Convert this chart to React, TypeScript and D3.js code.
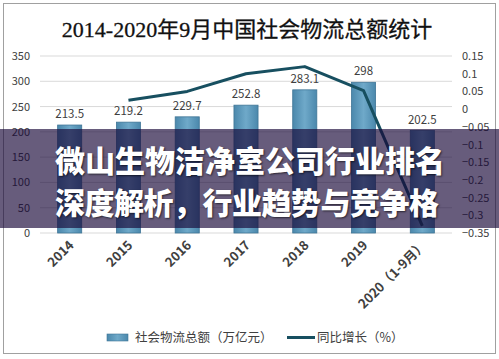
import * as d3 from "d3";

const years = ["2014", "2015", "2016", "2017", "2018", "2019", "2020（1-9月）"];
const totals = [213.5, 219.2, 229.7, 252.8, 283.1, 298, 202.5];
const growth: (number | null)[] = [null, 0.025, 0.05, 0.1, 0.12, 0.052, -0.33];
const leftTicks = [0, 50, 100, 150, 200, 250, 300, 350];
const rightTicks = [0.15, 0.1, 0.05, 0, -0.05, -0.1, -0.15, -0.2, -0.25, -0.3, -0.35];
const title = "2014-2020年9月中国社会物流总额统计";
const bannerLines = ["微山生物洁净室公司行业排名", "深度解析，行业趋势与竞争格"];
const legendBar = "社会物流总额（万亿元）";
const legendLine = "同比增长（%）";

export default function App() {
  const width = 499,
    height = 359,
    margin = { top: 56, right: 47, bottom: 126, left: 40 };

  const x = d3
    .scaleBand<string>()
    .domain(years)
    .range([margin.left, width - margin.right])
    .paddingInner(0.59)
    .paddingOuter(0.3);

  const y = d3
    .scaleLinear()
    .domain([0, 350])
    .range([height - margin.bottom, margin.top]);

  const y2 = d3
    .scaleLinear()
    .domain([-0.35, 0.15])
    .range([height - margin.bottom, margin.top]);

  const pts = years
    .map((yr, i) => ({ yr, g: growth[i] }))
    .filter((d) => d.g != null) as { yr: string; g: number }[];

  const line = d3
    .line<{ yr: string; g: number }>()
    .x((d) => x(d.yr)! + x.bandwidth() / 2)
    .y((d) => y2(d.g));

  const font = "'Noto Sans CJK SC', 'Open Sans', sans-serif";

  return (
    <svg
      width={width}
      height={height}
      style={{ position: "absolute", left: 0, top: 0, background: "#fff" }}
      fontFamily={font}
    >
      <defs>
        <linearGradient id="barGrad" x1="0" x2="1" y1="0" y2="0">
          <stop offset="0%" stopColor="#4b88ac" />
          <stop offset="50%" stopColor="#6fa9c9" />
          <stop offset="100%" stopColor="#4b88ac" />
        </linearGradient>
      </defs>
      <rect x={3.5} y={3.5} width={492} height={350} fill="#fff" stroke="#a0a0a0" />

      {/* title */}
      <text
        x={247}
        y={37}
        textAnchor="middle"
        fontSize={22}
        fill="#111"
        stroke="#111"
        strokeWidth={0.3}
        fontFamily="'Liberation Serif', 'Noto Sans CJK SC', serif"
      >
        {title}
      </text>

      {leftTicks.map((t) => (
        <g key={t}>
          <line
            x1={margin.left}
            x2={width - margin.right}
            y1={y(t)}
            y2={y(t)}
            stroke="#d9d9d9"
          />
          <text x={30} y={y(t) + 4} textAnchor="end" fontSize={11} fill="#404040">
            {t}
          </text>
        </g>
      ))}

      {rightTicks.map((t) => (
        <text key={t} x={462} y={y2(t) + 4} fontSize={11} fill="#404040">
          {d3.format("")(+t.toFixed(2))}
        </text>
      ))}

      {years.map((yr, i) => (
        <g key={yr}>
          <rect
            x={x(yr)}
            y={y(totals[i])}
            width={x.bandwidth()}
            height={y(0) - y(totals[i])}
            fill="url(#barGrad)"
            stroke="#3f7596"
            strokeWidth={0.8}
          />
          <text
            x={x(yr)! + x.bandwidth() / 2}
            y={y(totals[i]) - 7}
            textAnchor="middle"
            fontSize={11.5}
            fill="#404040"
          >
            {totals[i]}
          </text>
          <text
            transform={`translate(${x(yr)! + x.bandwidth() / 2 + 5},${y(0) + 13}) rotate(-45)`}
            textAnchor="end"
            fontSize={13}
            fontWeight="bold"
            fill="#404040"
          >
            {yr}
          </text>
        </g>
      ))}

      <path
        d={line(pts) ?? ""}
        fill="none"
        stroke="#174f60"
        strokeWidth={3}
        strokeLinejoin="round"
      />

      {/* banner overlay */}
      <rect x={0} y={129} width={width} height={99} fill="rgb(24,8,56)" fillOpacity={0.66} />
      {bannerLines.map((s, i) => (
        <text
          key={i}
          x={55}
          y={172 + i * 42}
          fontSize={30}
          fontWeight="900"
          fill="#fff"
          textLength={i === 0 ? 390 : 384}
          style={{ textShadow: "1px 1px 2px rgba(0,0,0,0.6)" }}
        >
          {s}
        </text>
      ))}

      {/* legend */}
      <rect x={107} y={334} width={21} height={7} fill="url(#barGrad)" stroke="#3f7596" strokeWidth={0.6} />
      <text x={135} y={342} fontSize={12.5} fill="#404040">
        {legendBar}
      </text>
      <line x1={287} x2={315} y1={337.5} y2={337.5} stroke="#174f60" strokeWidth={3} />
      <text x={317} y={342} fontSize={12.5} fill="#404040">
        {legendLine}
      </text>
    </svg>
  );
}
